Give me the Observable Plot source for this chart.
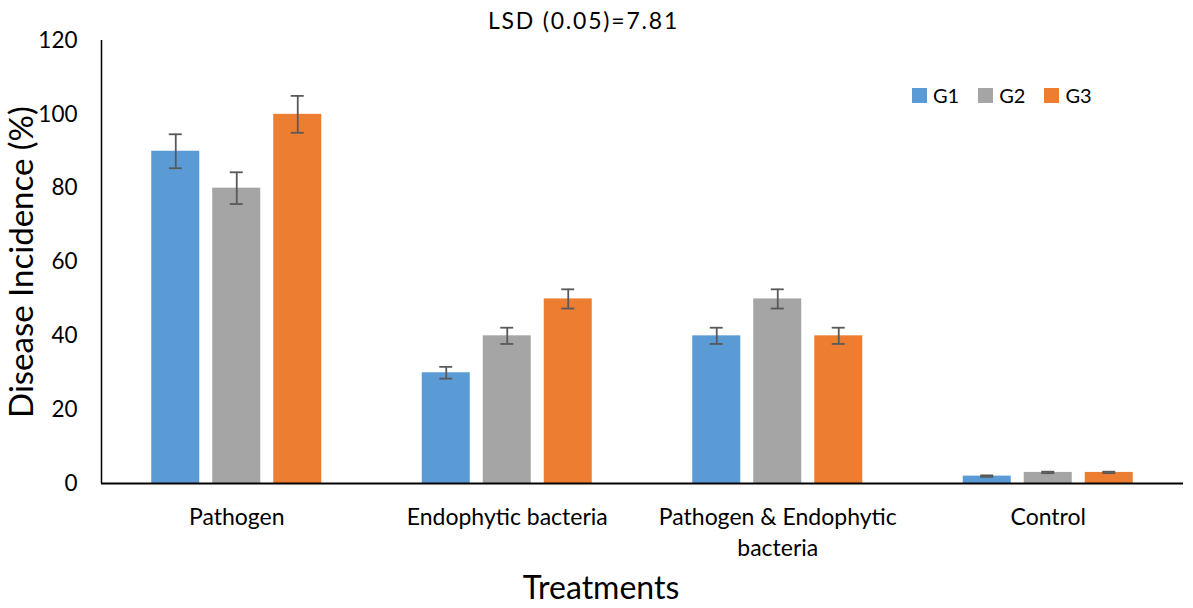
<!DOCTYPE html>
<html>
<head>
<meta charset="utf-8">
<script src="https://cdn.jsdelivr.net/npm/d3@7"></script>
<script src="https://cdn.jsdelivr.net/npm/@observablehq/plot@0.6"></script>
<style>
  body { margin: 0; background: #fff; font-family: Lato, "Open Sans", sans-serif; }
  #wrap { position: relative; width: 1193px; height: 608px; overflow: hidden; }
  #title { height: 33px; padding-top: 4px; line-height: 33px; font-size: 23px; letter-spacing: 1.8px; text-align: center; padding-right: 26px; color: #000; }
  #xlabel { height: 41px; line-height: 40px; font-size: 32px; text-align: center; padding-left: 9px; color: #000; }
  #chart svg { overflow: visible; display: block; }
  #legend { position: absolute; top: 83px; left: 912px; display: flex; font-size: 20px; line-height: 24px; }
  .sw { display: flex; align-items: center; margin-right: 19px; }
  .sw i { display: inline-block; width: 15px; height: 15px; margin-right: 6px; }
</style>
</head>
<body>
<div id="wrap">
  <div id="title"></div>
  <div id="chart"></div>
  <div id="xlabel"></div>
  <div id="legend"></div>
</div>
<script>
const titleText = "LSD (0.05)=7.81";
const xAxisTitle = "Treatments";
const yAxisTitle = "Disease Incidence (%)";
const treatments = ["Pathogen", "Endophytic bacteria", "Pathogen & Endophytic bacteria", "Control"];
const treatmentLabels = ["Pathogen", "Endophytic bacteria", "Pathogen & Endophytic\nbacteria", "Control"];
const groups = ["G1", "G2", "G3"];
const colors = ["#5B9BD5", "#A5A5A5", "#ED7D31"];
const g1Values = [90, 30, 40, 2];
const g2Values = [80, 40, 50, 3];
const g3Values = [100, 50, 40, 3];
const g1Err = [4.6, 1.6, 2.2, 0.2];
const g2Err = [4.3, 2.2, 2.6, 0.2];
const g3Err = [5.0, 2.6, 2.2, 0.2];
const yTicks = [0, 20, 40, 60, 80, 100, 120];

const seriesValues = [g1Values, g2Values, g3Values];
const seriesErr = [g1Err, g2Err, g3Err];
const rows = [];
treatments.forEach((t, ti) => groups.forEach((g, gi) => {
  rows.push({t, ti, g, gi, value: seriesValues[gi][ti], err: seriesErr[gi][ti]});
}));

// layout within each treatment slot (in slot units)
const pitch = 0.2255, bw = 0.1775, cap = 0.024;
const cx = d => d.ti + (d.gi - 1) * pitch;

document.getElementById("title").textContent = titleText;
document.getElementById("xlabel").textContent = xAxisTitle;

const plot = Plot.plot({
  width: 1193,
  height: 530,
  marginLeft: 101,
  marginRight: 10,
  marginTop: 3,
  marginBottom: 84,
  style: {fontFamily: "Lato, 'Open Sans', sans-serif", color: "#000", background: "transparent"},
  x: {type: "linear", domain: [-0.5, treatments.length - 0.5], axis: null},
  y: {domain: [0, 120], axis: null},
  color: {domain: groups, range: colors},
  marks: [
    Plot.rectY(rows, {x1: d => cx(d) - bw / 2, x2: d => cx(d) + bw / 2, y: "value", fill: "g"}),
    Plot.ruleX(rows, {x: cx, y1: d => d.value - d.err, y2: d => d.value + d.err, stroke: "#595959", strokeWidth: 1.8}),
    Plot.ruleY(rows, {y: d => d.value + d.err, x1: d => cx(d) - cap, x2: d => cx(d) + cap, stroke: "#595959", strokeWidth: 1.8}),
    Plot.ruleY(rows, {y: d => d.value - d.err, x1: d => cx(d) - cap, x2: d => cx(d) + cap, stroke: "#595959", strokeWidth: 1.8}),
    Plot.ruleY([0], {stroke: "#000", strokeWidth: 2}),
    Plot.ruleX([-0.5], {y1: 0, y2: 120, stroke: "#000", strokeWidth: 1.5}),
    Plot.axisY({ticks: yTicks, tickSize: 0, tickPadding: 24, fontSize: 22.5, label: null, fill: "#000"}),
    Plot.axisY({ticks: [], label: yAxisTitle, labelAnchor: "center", labelArrow: "none", labelOffset: 92, fontSize: 33, fill: "#000"}),
    Plot.axisX({ticks: d3.range(treatments.length), tickFormat: i => treatmentLabels[i], tickSize: 0, tickPadding: 19, fontSize: 23, lineHeight: 1.35, label: null, fill: "#000"})
  ]
});
document.getElementById("chart").appendChild(plot);

const lg = d3.select("#legend");
groups.forEach((g, i) => {
  const s = lg.append("div").attr("class", "sw");
  s.append("i").style("background", colors[i]);
  s.append("span").text(g);
});
</script>
</body>
</html>
